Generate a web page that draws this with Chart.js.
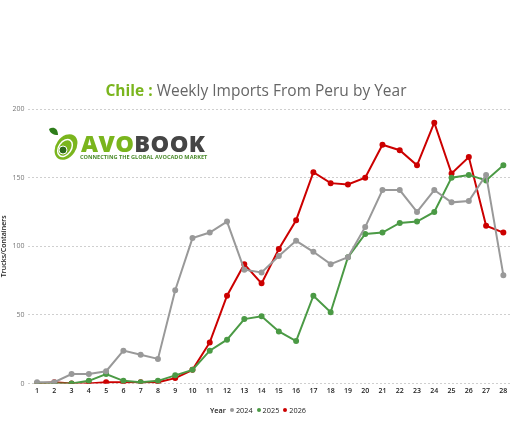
<!DOCTYPE html>
<html>
<head>
<meta charset="utf-8">
<script src="https://cdn.jsdelivr.net/npm/chart.js@4/dist/chart.umd.min.js"></script>
<style>
  html, body { margin: 0; padding: 0; background: #fff; overflow: hidden; }
  #wrap { position: relative; width: 512px; height: 434px; overflow: hidden; font-family: "Open Sans", sans-serif; }
  #myChart { position: absolute; left: 0; top: 0; }
  #title { position: absolute; left: 0; width: 512px; top: 79px; text-align: center; font-size: 15.5px; color: #666; white-space: nowrap; }
  #title b { color: #7ab51d; }
  #logoIcon { position: absolute; left: 46px; top: 125px; }
  #logoName { position: absolute; left: 81px; top: 127px; font-size: 23.5px; font-weight: 800; letter-spacing: 0.4px; white-space: nowrap; }
  #logoName span { color: #454545; }
  #logoName i { font-style: normal; color: #7ab51d; }
  #logoTag { position: absolute; left: 80px; top: 153px; font-size: 5.6px; font-weight: 700; color: #4a8a2a; white-space: nowrap; }
  #legend { position: absolute; top: 405px; left: 210px; font-size: 7.3px; color: #222; white-space: nowrap; }
  #legend span { margin-right: 4px; }
  #legend .dot { display: inline-block; width: 4px; height: 4px; border-radius: 50%; margin-right: 2px; vertical-align: 1px; }
</style>
</head>
<body>
<div id="wrap">
  <canvas id="myChart" width="517" height="434"></canvas>
  <div id="title"><b>Chile :</b> Weekly Imports From Peru by Year</div>
  <svg id="logoIcon" width="36" height="38" viewBox="0 0 36 38">
    <path d="M3 4 C7 1 12 3 12 10 C7 10 4 8 3 4 Z" fill="#2e7d1a"/>
    <ellipse cx="20" cy="22" rx="10" ry="14" transform="rotate(35 20 22)" fill="#7ab51d"/>
    <ellipse cx="19" cy="23" rx="7" ry="10" transform="rotate(35 19 23)" fill="#ffffff"/>
    <ellipse cx="19" cy="23" rx="5.5" ry="8.5" transform="rotate(35 19 23)" fill="#7ab51d"/>
    <circle cx="17" cy="25" r="4" fill="#2e6a1a" stroke="#fff" stroke-width="1"/>
  </svg>
  <div id="logoName"><i>AVO</i><span>BOOK</span></div>
  <div id="logoTag">CONNECTING THE GLOBAL AVOCADO MARKET</div>
  <div id="legend"><span style="font-weight:600">Year</span><span><i class="dot" style="background:#999999"></i>2024</span><span><i class="dot" style="background:#4b9a45"></i>2025</span><span><i class="dot" style="background:#cc0000"></i>2026</span></div>
</div>
<script>
const weeks = ['1','2','3','4','5','6','7','8','9','10','11','12','13','14','15','16','17','18','19','20','21','22','23','24','25','26','27','28']
const years = ['2024', '2025', '2026']
const values2024 = [1, 1, 7, 7, 9, 24, 21, 18, 68, 106, 110, 118, 83, 81, 93, 104, 96, 87, 92, 114, 141, 141, 125, 141, 132, 133, 152, 79]
const values2025 = [0, 0, 0, 2, 7, 2, 1, 2, 6, 10, 24, 32, 47, 49, 38, 31, 64, 52, 92, 109, 110, 117, 118, 125, 150, 152, 148, 159]
const values2026 = [0, 1, 0, 0, 1, 1, 1, 1, 4, 10, 30, 64, 87, 73, 98, 119, 154, 146, 145, 150, 174, 170, 159, 190, 153, 165, 115, 110]
const yTicks = [0, 50, 100, 150, 200]
const colors = ['#999999', '#4b9a45', '#cc0000']

const ctx = document.getElementById('myChart').getContext('2d')
const series = [values2024, values2025, values2026]

const data = {
    labels: weeks,
    datasets: series.map((vals, i) => ({
        label: years[i],
        data: vals,
        borderColor: colors[i],
        backgroundColor: colors[i],
        borderWidth: 2,
        radius: 2,
        hoverRadius: 3,
        tension: 0
    }))
}

const config = {
    type: 'line',
    data: data,
    options: {
        responsive: false,
        animation: false,
        layout: { padding: { top: 109, bottom: 36, left: 0, right: 0 } },
        plugins: {
            legend: { display: false },
            title: { display: false },
            tooltip: { enabled: false }
        },
        scales: {
            x: {
                offset: true,
                grid: { display: false, drawTicks: false },
                border: { display: false },
                ticks: { color: '#222', font: { family: 'Open Sans', size: 7, weight: '600' }, padding: 3, maxRotation: 0, autoSkip: false }
            },
            y: {
                min: 0,
                max: 200,
                afterBuildTicks: axis => { axis.ticks = yTicks.map(v => ({ value: v })) },
                title: { display: true, text: 'Trucks/Containers', color: '#222', font: { family: 'Open Sans', size: 7, weight: '600' }, padding: 0 },
                border: { display: false, dash: [2, 2] },
                grid: { color: '#cfcfcf', lineWidth: 1, drawTicks: false },
                ticks: { color: '#777', font: { family: 'Open Sans', size: 7 }, padding: 4 }
            }
        }
    }
}

const myChart = new Chart(ctx, config)
</script>
</body>
</html>
